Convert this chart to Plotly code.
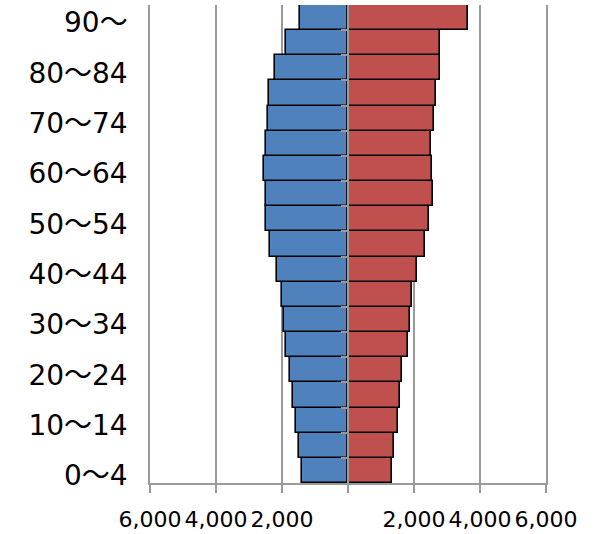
import plotly.graph_objects as go

# Age bands, youngest first (0～4 at the bottom of the pyramid)
age_groups = [
    "0～4", "5～9", "10～14", "15～19", "20～24", "25～29", "30～34",
    "35～39", "40～44", "45～49", "50～54", "55～59", "60～64",
    "65～69", "70～74", "75～79", "80～84", "85～89", "90～",
]

# Population by age band (persons)
male = [1390, 1470, 1590, 1680, 1750, 1870, 1930, 2000, 2150, 2360,
        2490, 2490, 2550, 2470, 2430, 2400, 2210, 1870, 1440]
female = [1320, 1390, 1510, 1590, 1630, 1810, 1880, 1940, 2100, 2320,
          2450, 2570, 2560, 2510, 2610, 2670, 2800, 2780, 3640]

x_ticks = [-6000, -4000, -2000, 0, 2000, 4000, 6000]
x_tick_text = ["6,000", "4,000", "2,000", "", "2,000", "4,000", "6,000"]

pos = list(range(len(age_groups)))
label_pos = pos[::2]
label_text = age_groups[::2]
boundaries = [p + 0.5 for p in pos[:-1]]

GRID = "#9a9a9a"

fig = go.Figure()
fig.add_trace(go.Bar(
    y=pos, x=[-v for v in male], orientation="h", name="男",
    marker=dict(color="#4F81BD", line=dict(color="#000000", width=1.6)),
    customdata=male, hovertemplate="%{customdata:,}<extra>男</extra>",
))
fig.add_trace(go.Bar(
    y=pos, x=female, orientation="h", name="女",
    marker=dict(color="#C0504D", line=dict(color="#000000", width=1.6)),
    hovertemplate="%{x:,}<extra>女</extra>",
))
# carrier for the centre axis
fig.add_trace(go.Scatter(x=[None], y=[None], yaxis="y2", showlegend=False,
                         hoverinfo="skip"))

fig.update_layout(
    width=603, height=534,
    margin=dict(l=150, r=57, t=5, b=51),
    paper_bgcolor="white", plot_bgcolor="white",
    barmode="relative", bargap=0,
    showlegend=False,
    font=dict(family="DejaVu Sans, Noto Sans CJK JP", color="#000000"),
    xaxis=dict(
        range=[-6000, 6000], tickvals=x_ticks, ticktext=x_tick_text,
        showgrid=True, gridcolor=GRID, gridwidth=1.5,
        showline=True, linecolor=GRID, linewidth=2,
        ticks="outside", ticklen=8, tickcolor=GRID, tickwidth=1.5,
        zeroline=False, tickfont=dict(size=22), ticklabelstandoff=8,
        automargin=False,
    ),
    yaxis=dict(
        range=[-0.5, 18.5], tickvals=label_pos, ticktext=label_text,
        showgrid=False, zeroline=False, ticks="",
        showline=True, mirror=True, linecolor=GRID, linewidth=1.5,
        ticklabelstandoff=15, ticklabelshift=5, ticklabeloverflow="allow",
        tickfont=dict(size=28), automargin=False,
    ),
    yaxis2=dict(
        overlaying="y", anchor="free", position=0.5,
        range=[-0.5, 18.5], tickvals=boundaries,
        showticklabels=False, showgrid=False, zeroline=False,
        showline=True, linecolor=GRID, linewidth=2,
        ticks="outside", ticklen=6, tickcolor=GRID, tickwidth=1.5,
        automargin=False,
    ),
)

fig.write_html("out.html")
